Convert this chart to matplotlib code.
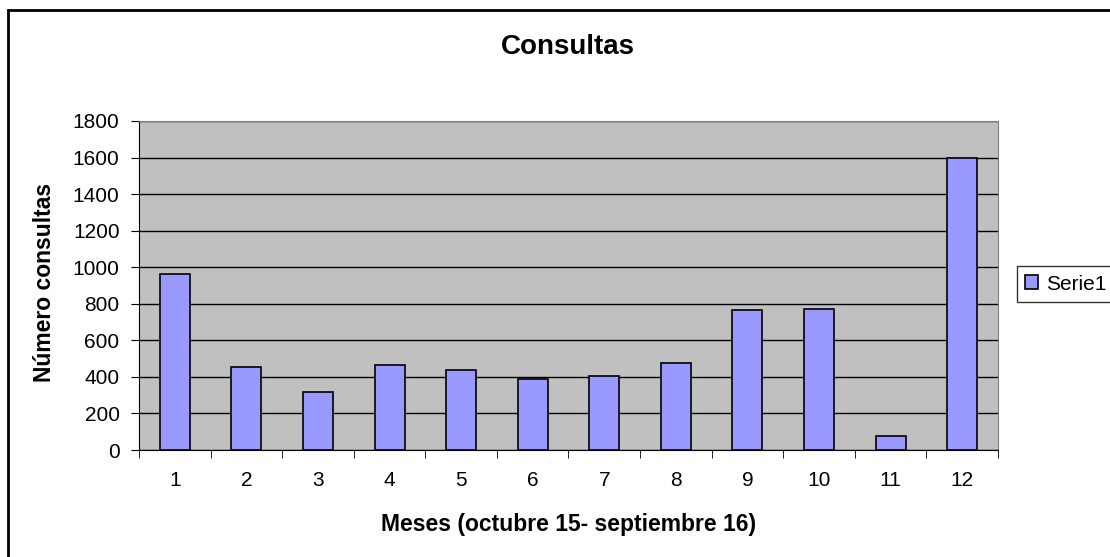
import numpy as np
import matplotlib.pyplot as plt
from matplotlib.patches import Rectangle

meses = [1, 2, 3, 4, 5, 6, 7, 8, 9, 10, 11, 12]
consultas = [965, 455, 320, 465, 435, 387, 407, 474, 764, 773, 78, 1595]
y_ticks = [0, 200, 400, 600, 800, 1000, 1200, 1400, 1600, 1800]

plt.rcParams['font.family'] = ['Liberation Sans', 'DejaVu Sans']

W, H = 1110, 557
fig = plt.figure(figsize=(W / 100, H / 100), dpi=100)
fig.patch.set_facecolor('white')

# plot area in pixel coords of the reference
left, right, top, bottom = 139, 998, 121, 450
ax = fig.add_axes([left / W, (H - bottom) / H, (right - left) / W, (bottom - top) / H])
ax.set_facecolor('#C0C0C0')

x = np.arange(len(meses))
ax.bar(x, consultas, width=0.42, color='#9999FF', edgecolor='black', linewidth=1.2,
       label='Serie1', zorder=3)

ax.set_xlim(-0.5, len(meses) - 0.5)
ax.set_ylim(0, 1800)
ax.set_yticks(y_ticks)
ax.set_yticklabels([str(v) for v in y_ticks], fontsize=15)
ax.yaxis.grid(True, color='black', linewidth=1, zorder=1)
ax.set_axisbelow(True)

ax.set_xticks(x)
ax.set_xticklabels([str(m) for m in meses], fontsize=15)
ax.tick_params(axis='x', length=0, pad=15)
ax.set_xticks(np.arange(-0.5, len(meses)), minor=True)
ax.tick_params(axis='x', which='minor', length=6, color='black')
ax.tick_params(axis='y', length=6, color='black', pad=8)

for s in ['top', 'right']:
    ax.spines[s].set_color('#808080')
for s in ['left', 'bottom']:
    ax.spines[s].set_color('black')

ax.set_xlabel('Meses (octubre 15- septiembre 16)', fontsize=16.5, fontweight='bold', va='center')
ax.xaxis.set_label_coords(0.5, (bottom - 524) / (bottom - top))
ax.set_ylabel('Número consultas', fontsize=16.5, fontweight='bold', va='center')
ax.yaxis.set_label_coords((44 - left) / (right - left), (bottom - 282) / (bottom - top))

fig.text(568 / W, 1 - 47 / H, 'Consultas', ha='center', va='center',
         fontsize=20, fontweight='bold')

leg = fig.legend(loc='center left', bbox_to_anchor=(1017 / W, 1 - 284 / H),
                 fontsize=15, frameon=True, fancybox=False, edgecolor='black',
                 handlelength=0.62, handleheight=0.62, handletextpad=0.38,
                 borderpad=0.4, borderaxespad=0)
leg.get_frame().set_linewidth(1)

# chart border (right and bottom edges fall outside the image)
fig.patches.append(Rectangle((8 / W, -0.1), 1.5, (H - 10) / H + 0.1,
                             transform=fig.transFigure, fill=False,
                             edgecolor='black', linewidth=2))

fig.savefig('out.png', dpi=100)
